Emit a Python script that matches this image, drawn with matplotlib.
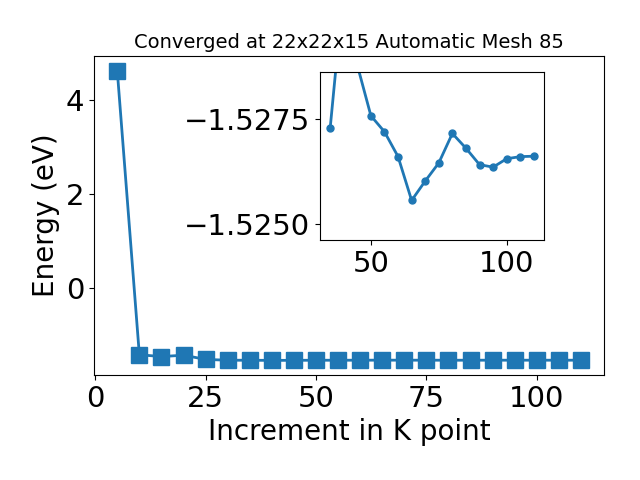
import matplotlib
matplotlib.use("Agg")
import matplotlib.pyplot as plt
from matplotlib.ticker import MultipleLocator

# k-point increment and total energy (eV)
kpoints = [5, 10, 15, 20, 25, 30, 35, 40, 45, 50, 55, 60, 65, 70, 75,
           80, 85, 90, 95, 100, 105, 110]
energy = [4.62, -1.41, -1.45, -1.42, -1.51, -1.527, -1.52728, -1.53064,
          -1.52877, -1.52757, -1.52719, -1.52660, -1.52556, -1.52602,
          -1.52645, -1.52715, -1.52680, -1.52641, -1.52635, -1.52655,
          -1.52660, -1.52661]

# zoomed part starts at 35
inset_start = 6
inset_ylim = (-1.52462, -1.52861)

plt.rcParams["font.size"] = 20
plt.rcParams["xtick.labelsize"] = 21
plt.rcParams["ytick.labelsize"] = 21

fig, ax = plt.subplots(figsize=(6.4, 4.8))
ax.plot(kpoints, energy, marker="s", markersize=11, linewidth=2)
ax.xaxis.set_major_locator(MultipleLocator(25))
ax.set_xlabel("Increment in K point")
ax.set_ylabel("Energy (eV)")
ax.set_title("Converged at 22x22x15 Automatic Mesh 85", fontsize=14)
fig.subplots_adjust(left=0.147, right=0.944, top=0.883, bottom=0.219)

ins = fig.add_axes([0.5, 0.5, 0.35, 0.35])
ins.plot(kpoints[inset_start:], energy[inset_start:], marker="o",
         markersize=5, linewidth=2)
ins.set_ylim(*inset_ylim)
ins.yaxis.set_major_locator(MultipleLocator(0.0025))
ins.xaxis.set_major_locator(MultipleLocator(50))

plt.savefig("out.png", dpi=100)
